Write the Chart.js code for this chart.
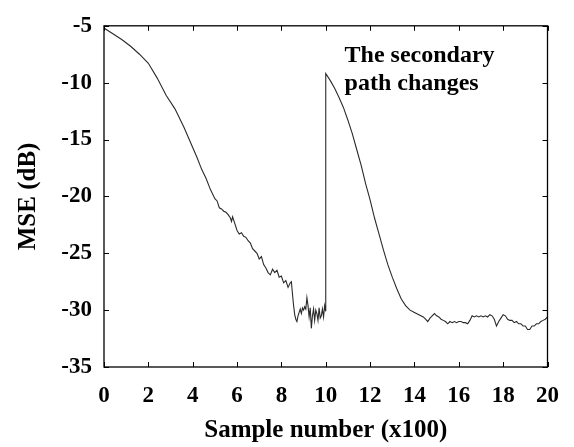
<!DOCTYPE html>
<html>
<head>
<meta charset="utf-8">
<script src="https://cdn.jsdelivr.net/npm/chart.js@4"></script>
<style>
html,body{margin:0;padding:0;background:#fff;}
#wrap{width:574px;height:447px;position:relative;}
</style>
</head>
<body>
<div id="wrap"><canvas id="c" width="574" height="447"></canvas></div>
<script>
const xValues = [0,0.4,0.8,1.2,1.6,2.0,2.4,2.8,3.2,3.6,4.0,4.2,4.4,4.6,4.8,5.0,
5.1,5.2,5.3,5.4,5.5,5.6,5.7,5.75,5.8,5.9,6.0,6.1,6.2,6.3,6.4,6.5,6.6,6.7,6.8,6.9,7.0,7.1,7.2,7.3,7.4,7.5,7.6,7.7,7.8,7.9,8.0,8.1,8.2,8.3,8.4,8.45,
8.5,8.55,8.6,8.65,8.7,8.75,8.8,8.85,8.9,8.95,9.0,9.05,9.1,9.15,9.2,9.25,9.3,9.35,9.4,9.45,9.5,9.55,9.6,9.65,9.7,9.75,9.8,9.85,9.9,9.95,10.0,10.0,
10.2,10.4,10.6,10.8,11.0,11.2,11.4,11.6,11.8,12.0,12.2,12.4,12.6,12.8,13.0,13.2,13.4,13.6,13.8,14.0,14.2,14.4,14.5,14.6,14.7,14.8,14.9,15.0,
15.1,15.2,15.3,15.4,15.5,15.6,15.7,15.8,15.9,16.0,16.1,16.2,16.3,16.4,16.5,16.6,16.7,16.8,16.9,17.0,17.1,17.2,17.3,17.4,17.5,17.6,17.7,17.8,17.9,18.0,
18.1,18.2,18.3,18.4,18.5,18.6,18.7,18.8,18.9,19.0,19.1,19.2,19.3,19.4,19.5,19.6,19.7,19.8,19.9,20.0];
const mseValues = [-5.2,-5.7,-6.2,-6.8,-7.5,-8.3,-9.6,-11.1,-12.3,-13.9,-15.7,-16.6,-17.6,-18.4,-19.4,-20.2,
-20.4,-21.0,-21.1,-21.3,-21.4,-21.6,-21.9,-22.2,-21.8,-22.4,-23.0,-23.3,-23.2,-23.5,-23.6,-23.9,-24.1,-24.6,-24.8,-25.0,-25.5,-25.3,-26.0,-26.3,-26.7,-26.9,-26.4,-26.7,-26.5,-27.1,-27.0,-27.6,-27.4,-28.0,-27.6,-27.5,
-28.6,-29.6,-30.4,-30.8,-31.0,-30.5,-30.2,-29.9,-30.3,-29.8,-30.0,-29.7,-29.9,-28.9,-29.6,-30.6,-29.8,-31.6,-30.5,-29.9,-30.9,-30.0,-30.3,-30.9,-29.8,-30.7,-30.5,-29.9,-30.6,-29.6,-30.1,-9.2,
-9.8,-10.5,-11.3,-12.2,-13.3,-14.5,-15.9,-17.3,-18.9,-20.3,-21.9,-23.3,-24.7,-26.0,-27.1,-28.1,-29.0,-29.6,-30.0,-30.2,-30.4,-30.6,-30.8,-31.0,-30.7,-30.5,-30.3,-30.5,
-30.6,-30.8,-30.9,-31.0,-31.2,-31.0,-31.1,-31.0,-31.1,-31.0,-31.0,-31.1,-31.1,-31.2,-30.9,-30.5,-30.6,-30.5,-30.6,-30.5,-30.6,-30.5,-30.6,-30.4,-30.5,-30.8,-31.4,-31.0,-30.7,-30.4,
-30.5,-30.8,-30.9,-30.9,-31.1,-31.0,-31.2,-31.2,-31.4,-31.4,-31.7,-31.7,-31.4,-31.4,-31.2,-31.2,-31.0,-30.9,-30.8,-30.6];
const xTicks = [0,2,4,6,8,10,12,14,16,18,20];
const yTicks = [-35,-30,-25,-20,-15,-10,-5];
const xTitle = 'Sample number (x100)';
const yTitle = 'MSE (dB)';
const noteLines = ['The secondary', 'path changes'];

const FONT = "'Liberation Serif', 'Times New Roman', serif";

const framePlugin = {
  id: 'frame',
  afterDatasetsDraw(chart) {
    const {ctx, chartArea: a, scales: {x, y}} = chart;
    ctx.save();
    ctx.strokeStyle = '#000';
    ctx.lineWidth = 1.3;
    ctx.strokeRect(a.left, a.top, a.right - a.left, a.bottom - a.top);
    const L = 5;
    ctx.lineWidth = 1;
    ctx.beginPath();
    xTicks.forEach(v => {
      const px = Math.round(x.getPixelForValue(v)) + 0.5;
      ctx.moveTo(px, a.bottom); ctx.lineTo(px, a.bottom - L);
      ctx.moveTo(px, a.top); ctx.lineTo(px, a.top + L);
    });
    yTicks.forEach(v => {
      const py = Math.round(y.getPixelForValue(v)) + 0.5;
      ctx.moveTo(a.left, py); ctx.lineTo(a.left + L, py);
      ctx.moveTo(a.right, py); ctx.lineTo(a.right - L, py);
    });
    ctx.stroke();
    // annotation
    ctx.fillStyle = '#000';
    ctx.font = 'bold 24px ' + FONT;
    ctx.textAlign = 'left';
    ctx.textBaseline = 'alphabetic';
    const tx = x.getPixelForValue(10.85);
    const ty = y.getPixelForValue(-8.14);
    ctx.fillText(noteLines[0], tx, ty);
    ctx.fillText(noteLines[1], tx, ty + 28);
    ctx.restore();
  }
};

new Chart(document.getElementById('c'), {
  type: 'line',
  data: {
    datasets: [{
      data: xValues.map((v, i) => ({x: v, y: mseValues[i]})),
      borderColor: '#2a2a2a',
      borderWidth: 1.1,
      pointRadius: 0,
      tension: 0,
      fill: false
    }]
  },
  options: {
    responsive: false,
    animation: false,
    events: [],
    layout: {padding: {left: 0, right: 20, top: 13, bottom: 0}},
    plugins: {legend: {display: false}, tooltip: {enabled: false}},
    scales: {
      x: {
        type: 'linear', min: 0, max: 20,
        afterBuildTicks(s) { s.ticks = xTicks.map(v => ({value: v})); },
        afterFit(s) { s.height = 80; },
        grid: {display: false, drawTicks: false},
        border: {display: false},
        ticks: {color: '#000', padding: 15, maxRotation: 0, font: {family: FONT, size: 23, weight: 'bold'}},
        title: {display: true, text: xTitle, color: '#000', padding: {top: 4, bottom: 1}, font: {family: FONT, size: 25, weight: 'bold'}}
      },
      y: {
        type: 'linear', min: -35, max: -5,
        afterBuildTicks(s) { s.ticks = yTicks.map(v => ({value: v})); },
        afterFit(s) { s.width = 104; },
        grid: {display: false, drawTicks: false},
        border: {display: false},
        ticks: {color: '#000', padding: 12, font: {family: FONT, size: 23, weight: 'bold'}},
        title: {display: true, text: yTitle, color: '#000', padding: {top: 14, bottom: 4}, font: {family: FONT, size: 25, weight: 'bold'}}
      }
    }
  },
  plugins: [framePlugin]
});
</script>
</body>
</html>
